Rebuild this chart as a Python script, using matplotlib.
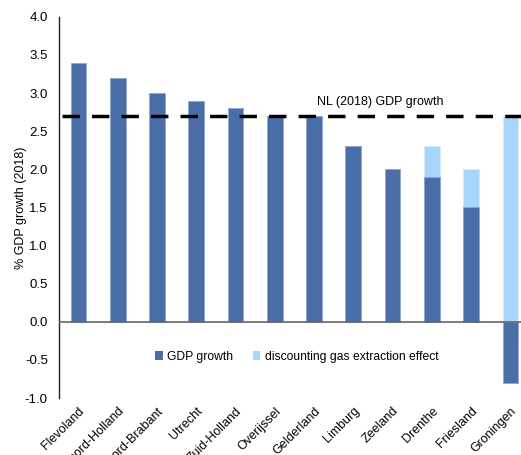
import matplotlib
matplotlib.use("Agg")
import matplotlib.pyplot as plt
from matplotlib.patches import Patch

plt.rcParams['font.family'] = ['Liberation Sans', 'DejaVu Sans']

provinces = ["Flevoland", "Noord-Holland", "Noord-Brabant", "Utrecht", "Zuid-Holland",
             "Overijssel", "Gelderland", "Limburg", "Zeeland", "Drenthe", "Friesland", "Groningen"]
gdp_growth = [3.4, 3.2, 3.0, 2.9, 2.8, 2.7, 2.7, 2.3, 2.0, 1.9, 1.5, -0.8]
gas_effect_total = [None, None, None, None, None, None, None, None, None, 2.3, 2.0, 2.7]
nl_growth = 2.7

dark = "#4A6FA8"
light = "#AAD5FB"

fig = plt.figure(figsize=(5.21, 4.55), dpi=100)
ax = fig.add_axes([0.113, 0.125, 0.887, 0.838])

x = list(range(len(provinces)))
w = 0.4
for i, t in enumerate(gas_effect_total):
    if t is not None:
        ax.bar(i, t, width=w, color=light, edgecolor="#D6E9FA", linewidth=0.6, zorder=2)
for i, g in enumerate(gdp_growth):
    ax.bar(i, g, width=w, color=dark, edgecolor="#8FA6CC", linewidth=0.6, zorder=3)

ax.axhline(0, color="#666666", linewidth=1.2, zorder=4)
ax.plot([-0.42, 11.3], [nl_growth, nl_growth], color="black", linewidth=2.5,
        dashes=(5, 3.5), zorder=5, clip_on=False)
ax.text(6.08, 2.88, "NL (2018) GDP growth", fontsize=9, ha="left", va="center")

yt = [-1.0, -0.5, 0.0, 0.5, 1.0, 1.5, 2.0, 2.5, 3.0, 3.5, 4.0]
ax.set_xlim(-0.5, 11.27)
ax.set_ylim(-1.0, 4.0)
ax.set_yticks(yt)
ax.set_yticklabels([f"{v:.1f}" for v in yt], fontsize=9.5)
ax.tick_params(axis='y', length=0, pad=8)
ax.set_xticks(x)
ax.set_xticklabels(provinces, rotation=45, ha="right", rotation_mode="anchor", fontsize=9)
ax.tick_params(axis='x', length=0, pad=5)
for s in ["top", "right", "bottom"]:
    ax.spines[s].set_visible(False)
ax.spines["left"].set_linewidth(1.0)
ax.spines["left"].set_color("#222222")
ax.set_ylabel("% GDP growth (2018)", fontsize=9)
ax.yaxis.set_label_coords(-0.07, 0.5)

handles = [Patch(facecolor=dark, label="GDP growth"),
           Patch(facecolor=light, label="discounting gas extraction effect")]
ax.legend(handles=handles, loc="center", bbox_to_anchor=(0.515, 0.108), ncol=2,
          frameon=False, fontsize=8.7, handlelength=0.6, handleheight=0.8,
          handletextpad=0.4, columnspacing=1.6)

fig.savefig("out.png", dpi=100)
